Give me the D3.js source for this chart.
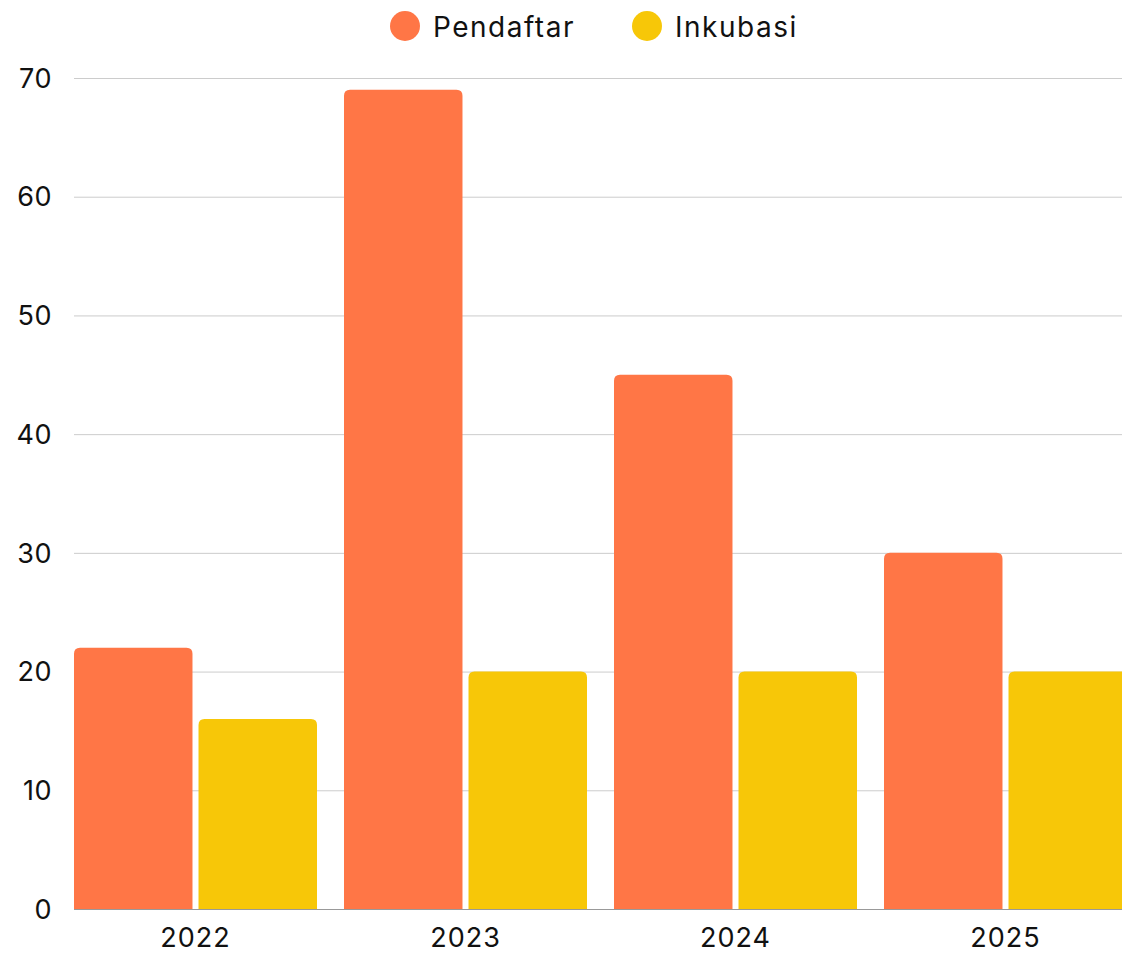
<!DOCTYPE html>
<html><head><meta charset="utf-8">
<script src="https://cdn.jsdelivr.net/npm/d3@7"></script>
<style>body{margin:0;background:#fff;overflow:hidden}svg{display:block}</style>
</head><body>
<svg id="c" width="1122" height="955"></svg>
<script>
const categories = ["2022", "2023", "2024", "2025"];
const seriesNames = ["Pendaftar", "Inkubasi"];
const pendaftar = [22, 69, 45, 30];
const inkubasi = [16, 20, 20, 20];
const yTicks = [0, 10, 20, 30, 40, 50, 60, 70];
const colors = ["#FF7646", "#F7C708"];

(function () {
const svg = d3.select("#c");
const font = "Inter, 'Noto Sans', sans-serif";
const plotLeft = 74, plotBottom = 909, plotTop = 78;
const y = d3.scaleLinear().domain([0, 70]).range([plotBottom, plotTop]);
const x0 = d3.scaleBand().domain(categories).range([plotLeft, plotLeft + 1053]).paddingInner(0.1).paddingOuter(0).align(0);
const x1 = d3.scaleBand().domain(seriesNames).range([0, x0.bandwidth()]).paddingInner(0.0484).paddingOuter(0);
const data = [pendaftar, inkubasi];

svg.append("g").selectAll("line").data(yTicks.filter(d => d > 0)).join("line")
  .attr("x1", plotLeft).attr("x2", 1122).attr("y1", d => y(d) + 0.5).attr("y2", d => y(d) + 0.5)
  .attr("stroke", "#cccccc").attr("stroke-width", 1);

svg.append("g").selectAll("text").data(yTicks).join("text")
  .attr("x", 52).attr("y", d => y(d)).attr("dy", "0.36em").attr("text-anchor", "end")
  .attr("font-family", font).attr("font-size", 27).attr("letter-spacing", 0.5).attr("fill", "#111").text(d => d);

function topRounded(x, yTop, w, h, r) {
  r = Math.min(r, w / 2, h);
  return `M${x},${yTop + h}V${yTop + r}Q${x},${yTop} ${x + r},${yTop}H${x + w - r}Q${x + w},${yTop} ${x + w},${yTop + r}V${yTop + h}Z`;
}

const g = svg.append("g");
categories.forEach((c, i) => {
  seriesNames.forEach((s, j) => {
    const v = data[j][i];
    g.append("path")
      .attr("d", topRounded(x0(c) + x1(s), y(v), x1.bandwidth(), y(0) - y(v), 6))
      .attr("fill", colors[j]);
  });
});

svg.append("line").attr("x1", plotLeft).attr("x2", 1122).attr("y1", plotBottom + 0.5).attr("y2", plotBottom + 0.5)
  .attr("stroke", "#999").attr("stroke-width", 1);

svg.append("g").selectAll("text").data(categories).join("text")
  .attr("x", d => x0(d) + x0.bandwidth() / 2).attr("y", 937).attr("dy", "0.36em")
  .attr("text-anchor", "middle").attr("font-family", font).attr("font-size", 27).attr("letter-spacing", 1)
  .attr("fill", "#111").text(d => d);

const legendX = [405, 647];
const lg = svg.append("g");
seriesNames.forEach((s, j) => {
  lg.append("circle").attr("cx", legendX[j]).attr("cy", 26).attr("r", 15).attr("fill", colors[j]);
  lg.append("text").attr("x", legendX[j] + 28).attr("y", 27).attr("dy", "0.36em")
    .attr("font-family", font).attr("font-size", 28).attr("letter-spacing", 1.5).attr("fill", "#111").text(s);
});
})();
</script>
</body></html>
